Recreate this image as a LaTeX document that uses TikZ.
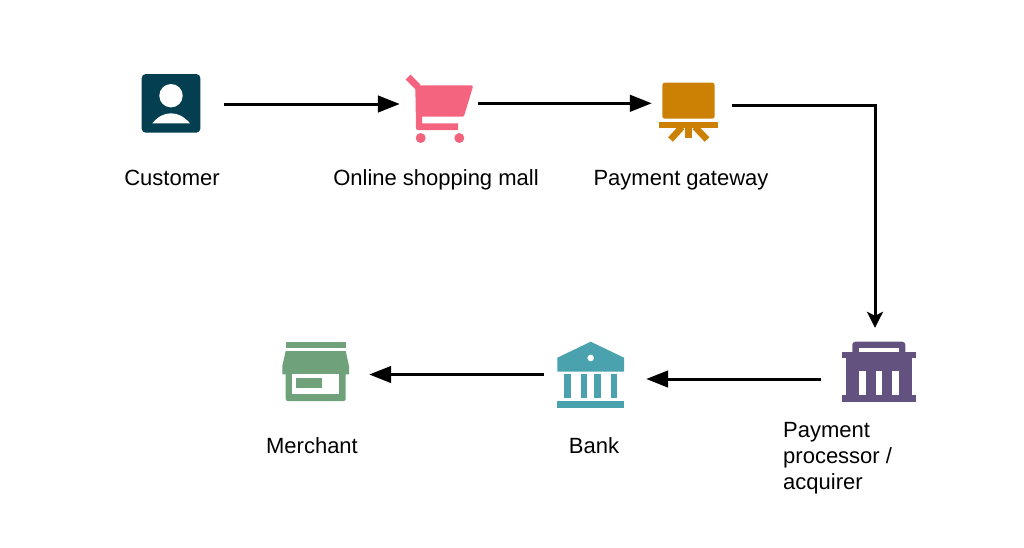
\documentclass[tikz,border=0pt]{standalone}
\usepackage{fontspec}
\setmainfont{Liberation Sans}
\usetikzlibrary{arrows.meta}
\definecolor{custc}{HTML}{033F50}
\definecolor{cartc}{HTML}{F4647F}
\definecolor{gatec}{HTML}{CC8104}
\definecolor{procc}{HTML}{63517F}
\definecolor{bankc}{HTML}{4AA2AE}
\definecolor{merc}{HTML}{6FA27B}
\tikzset{
  iconbox/.style={rectangle,inner sep=0pt,minimum width=#1},
  lbl/.style={font=\fontsize{22}{26}\selectfont,inner sep=0pt,anchor=base},
  flow/.style={line width=3pt,-{Triangle[length=22pt,width=16.5pt]}},
  elbowflow/.style={line width=3pt,-{Stealth[length=16pt,width=16pt,inset=4pt]}}
}
\begin{document}
\begin{tikzpicture}[x=1pt,y=-1pt]
\useasboundingbox (0,0) rectangle (1024,547);
% connector anchor boxes
\node[iconbox=106pt,minimum height=60pt] (customer) at (171,104) {};
\node[iconbox=78pt,minimum height=60pt] (mall) at (439,104) {};
\node[iconbox=80pt,minimum height=60pt] (gateway) at (692,103.3) {};
\node[iconbox=108pt,minimum height=102pt] (processor) at (875,379) {};
\node[iconbox=102pt,minimum height=60pt] (bank) at (595,379) {};
\node[iconbox=104pt,minimum height=60pt] (merchant) at (317,374.5) {};
% customer icon
\fill[custc,rounded corners=4pt] (141.7,74) rectangle (200.3,132.7);
\fill[white] (171,95.7) circle (11.7);
\fill[white] (152.3,123.3) .. controls (158,116.5) and (164,113.3) .. (171,113.3) .. controls (178,113.3) and (184,116.5) .. (190,123.3) -- cycle;
% cart icon
\draw[cartc,line width=7pt] (408,77) -- (418,87);
\fill[cartc] (415.3,85.4) -- (471.5,85.4) .. controls (472.5,85.4) and (473,86) .. (472.7,87.5) -- (464.5,114.5) .. controls (464,116) and (463.5,116.7) .. (462,116.7) -- (422,116.7) -- (422,123.3) -- (458,123.3) -- (458,130) -- (418,130) .. controls (416.7,130) and (416,129.3) .. (416,128) -- cycle;
\fill[cartc] (420.7,138) circle (5);
\fill[cartc] (459.3,138) circle (5);
% gateway icon
\fill[gatec,rounded corners=2.5pt] (662.3,82.7) rectangle (714.7,118.7);
\fill[gatec] (659.3,121.7) rectangle (717.7,128.3);
\fill[gatec] (685,128) rectangle (691.7,137.7);
\draw[gatec,line width=6.5pt] (682,127) -- (670.5,139.5);
\draw[gatec,line width=6.5pt] (695,127) -- (707,139.5);
% processor icon
\fill[procc,rounded corners=3pt] (852.3,341.7) -- (905.3,341.7) -- (905.3,356) -- (852.3,356) -- cycle;
\fill[procc] (842.3,351.7) rectangle (915.7,358.3);
\fill[procc] (845.7,358) rectangle (912.3,396);
\fill[procc] (842.3,395) rectangle (915.7,401.7);
\fill[white] (859,347.7) rectangle (899,351.7);
\fill[white] (859,371) rectangle (865.7,395);
\fill[white] (875.7,371) rectangle (882.3,395);
\fill[white] (892.3,371) rectangle (899,395);
% bank icon
\fill[bankc] (590.7,341.7) -- (624,357.7) -- (624,371.7) -- (557.3,371.7) -- (557.3,357.7) -- cycle;
\fill[white] (590.7,358) circle (3.3);
\fill[bankc] (564,374.3) rectangle (570.7,398.3);
\fill[bankc] (580.7,374.3) rectangle (587.3,398.3);
\fill[bankc] (594,374.3) rectangle (600.7,398.3);
\fill[bankc] (610.7,374.3) rectangle (617.3,398.3);
\fill[bankc] (557.3,401.3) rectangle (624,408);
% merchant icon
\fill[merc] (285.7,341.7) rectangle (345.7,348);
\fill[merc] (285.7,351) -- (345.7,351) -- (349,366) -- (349,374.3) -- (282.3,374.3) -- (282.3,366) -- cycle;
\fill[merc,rounded corners=2pt] (285.7,370) -- (345.7,370) -- (345.7,401) -- (285.7,401) -- cycle;
\fill[white] (292.3,374.3) rectangle (339,394.3);
\fill[merc] (295.7,378) rectangle (322.3,388.3);
% labels
\node[lbl] (lcustomer) at (172,185) {Customer};
\node[lbl] (lmall) at (436,185) {Online shopping mall};
\node[lbl] (lgateway) at (681,185) {Payment gateway};
\node[lbl,anchor=base west] (lproc1) at (783,437) {Payment};
\node[lbl,anchor=base west] (lproc2) at (783,463) {processor /};
\node[lbl,anchor=base west] (lproc3) at (783,489) {acquirer};
\node[lbl] (lbank) at (594,453) {Bank};
\node[lbl] (lmerchant) at (312,453) {Merchant};
% connectors
\draw[flow] (customer.east) -- (mall.west);
\draw[flow] (mall.east |- gateway.west) -- (gateway.west);
\draw[elbowflow] ([yshift=-1.7pt]gateway.east) -| (processor.north);
\draw[flow] (processor.west) -- (bank.east);
\draw[flow] (bank.west |- merchant.east) -- (merchant.east);
\end{tikzpicture}
\end{document}
